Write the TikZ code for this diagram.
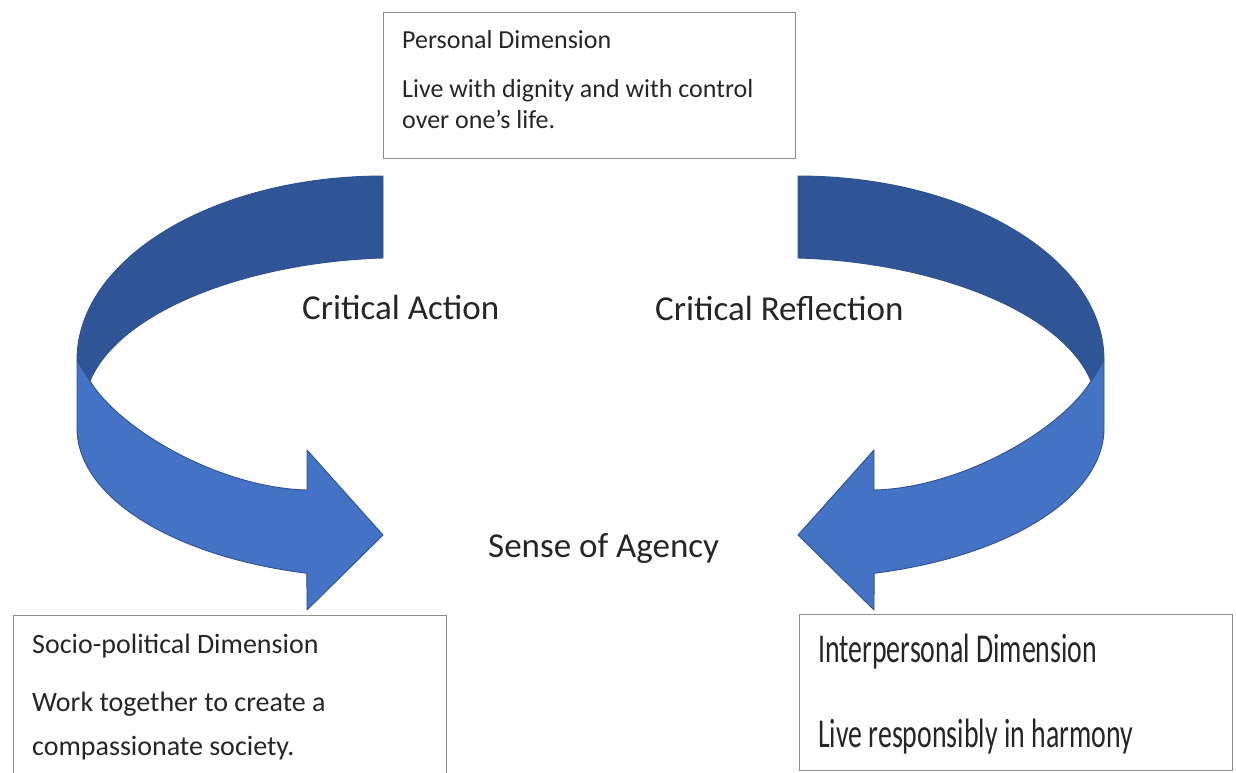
\documentclass[tikz,border=0pt]{standalone}
\usepackage{fontspec}
\usepackage{graphicx}
\setmainfont{Carlito}
\definecolor{backblue}{HTML}{2F5597}
\definecolor{frontblue}{HTML}{4472C4}
\definecolor{edgeblue}{HTML}{2F528F}
\definecolor{boxgray}{HTML}{8C8C8C}
\definecolor{inkgray}{HTML}{262626}

% ribbon arrow: the back (upper) half and the front (lower) half with its head
\newcommand\backpath{(383,176) arc[start angle=270, end angle=180, x radius=306, y radius=184]
  -- (90,381) .. controls (120,310) and (250,262) .. (383,258) -- cycle}
\newcommand\frontpath{(77,360) -- (77,428)
  arc[start angle=180, end angle=104.4, x radius=306, y radius=150]
  -- (307,610) -- (383,535) -- (307,450) -- (307,490)
  .. controls (220,488) and (120,430) .. (90,381) -- cycle}

\begin{document}
\begin{tikzpicture}[x=1pt,y=-1pt,
  band/.style={draw=edgeblue, line width=0.9pt, line join=round},
  backband/.style={band, fill=backblue},
  frontband/.style={band, fill=frontblue},
  dimbox/.style={draw=boxgray, line width=1.4pt, fill=white, inner sep=0pt,
    rectangle, anchor=north west},
  boxtext/.style={anchor=base west, inner sep=0pt, text=inkgray,
    font=\fontsize{26}{31}\selectfont},
  widetext/.style={anchor=base west, inner sep=0pt, text=inkgray,
    font=\fontsize{28}{34}\selectfont},
  tallfont/.style={anchor=base west, inner sep=0pt, text=inkgray,
    font=\fontsize{41}{48}\selectfont},
  cyclelabel/.style={anchor=base west, inner sep=0pt, text=inkgray,
    font=\fontsize{35}{42}\selectfont}
]
\useasboundingbox (0,0) rectangle (1236,772);
\clip (0,0) rectangle (1236,772);
\fill[white] (0,0) rectangle (1236,772);

% left ribbon arrow (Critical Action)
\path[frontband] \frontpath;
\path[backband] \backpath;

% right ribbon arrow (Critical Reflection), mirrored
\begin{scope}[xshift=1181pt, xscale=-1]
  \path[frontband] \frontpath;
  \path[backband] \backpath;
\end{scope}

% dimension boxes
\node[dimbox, minimum width=412, minimum height=146] (personal) at (383,12) {};
\node[dimbox, minimum width=433, minimum height=200] (sociopolitical) at (13,615) {};
\node[dimbox, minimum width=433, minimum height=156] (interpersonal) at (799,614) {};

% box texts
\node[boxtext] (personalhead) at (402,48) {Personal Dimension};
\node[boxtext] (personalone) at (402,97) {Live with dignity and with control};
\node[boxtext] (personaltwo) at (402,128) {over one’s life.};

\node[widetext] (sociohead) at (32,653) {Socio-political Dimension};
\node[widetext] (socioone) at (32,711) {Work together to create a};
\node[widetext] (sociotwo) at (32,755) {compassionate society.};

\node[tallfont] (interhead) at (818,662) {\scalebox{0.68}[1]{Interpersonal Dimension}};
\node[tallfont] (interone) at (818,747) {\scalebox{0.68}[1]{Live responsibly in harmony}};

% cycle labels
\node[cyclelabel] (action) at (302,319) {Critical Action};
\node[cyclelabel] (reflection) at (655,320) {Critical Reflection};
\node[cyclelabel] (agency) at (488,557) {Sense of Agency};
\end{tikzpicture}
\end{document}
